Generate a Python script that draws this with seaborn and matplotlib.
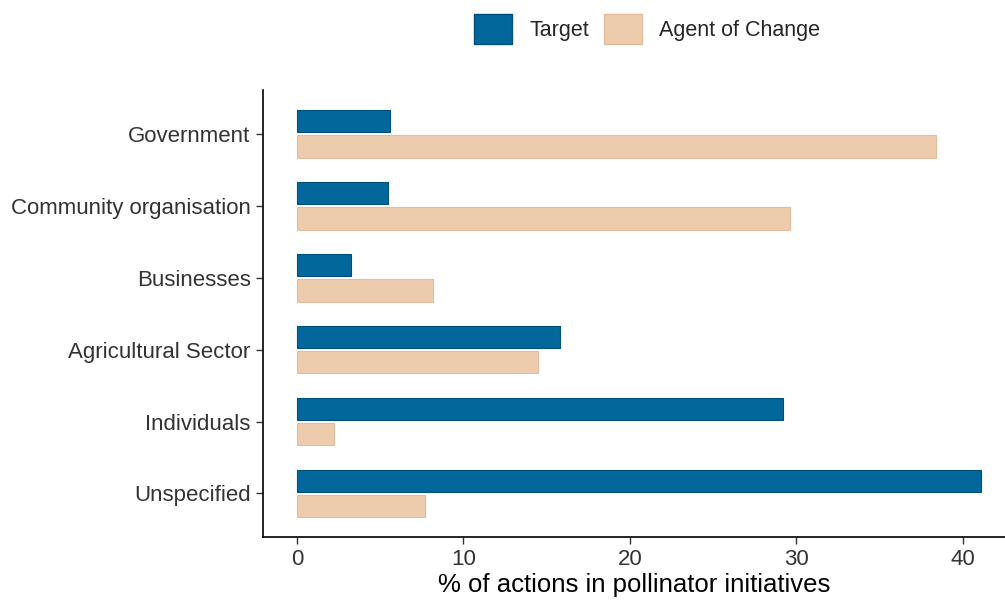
import numpy as np
import pandas as pd
import seaborn as sns
import matplotlib.pyplot as plt
from matplotlib.patches import Patch


sectors = ['Government', 'Community organisation', 'Businesses',
           'Agricultural Sector', 'Individuals', 'Unspecified']
target = [5.6, 5.5, 3.25, 15.8, 29.2, 41.1]
agent_of_change = [38.4, 29.6, 8.15, 14.5, 2.2, 7.7]
roles = ['Target', 'Agent of Change']

colors = {'Target': '#02679A', 'Agent of Change': '#EDCBAD'}
edges = {'Target': '#01507A', 'Agent of Change': '#E4BC99'}


def build_frame():
    df = pd.DataFrame({'sector': sectors * 2,
                       'pct': target + agent_of_change,
                       'role': [roles[0]] * len(sectors) + [roles[1]] * len(sectors)})
    return df


def plot_bars(df):
    sns.set_style('ticks')
    plt.rcParams['font.family'] = ['Liberation Sans', 'DejaVu Sans']

    fig = plt.figure(figsize=(10.05, 6.03), dpi=100)
    ax = fig.add_axes([263 / 1005, 0.11, 742 / 1005, 0.74])

    sns.barplot(data=df, y='sector', x='pct', hue='role', order=sectors,
                hue_order=roles, palette=colors, orient='h', width=0.7,
                gap=0.1, saturation=1, legend=False, ax=ax)

    for cont, r in zip(ax.containers, roles):
        for p in cont:
            p.set_edgecolor(edges[r])
            p.set_linewidth(0.8)

    ax.set_xlim(-2.04, 42.55)
    ax.set_ylim(5.6, -0.6)
    ax.set_xticks([0, 10, 20, 30, 40])
    ax.set_xlabel('% of actions in pollinator initiatives', fontsize=18.5,
                  color='black', labelpad=2)
    ax.set_ylabel('')
    ax.tick_params(axis='both', labelsize=16, colors='#333333', length=5,
                   width=1, direction='out', pad=4)

    sns.despine(ax=ax, top=True, right=True)
    for s in ['left', 'bottom']:
        ax.spines[s].set_color('black')
        ax.spines[s].set_linewidth(1.2)

    handles = [Patch(facecolor=colors[r], edgecolor=edges[r], label=r) for r in roles]
    fig.legend(handles=handles, loc='center', bbox_to_anchor=(0.644, 0.952),
               ncol=2, frameon=False, fontsize=15.5, handlelength=1.75,
               handleheight=1.75, handletextpad=0.8, columnspacing=0.7)

    fig.savefig('out.png', dpi=100)


df = build_frame()
plot_bars(df)
